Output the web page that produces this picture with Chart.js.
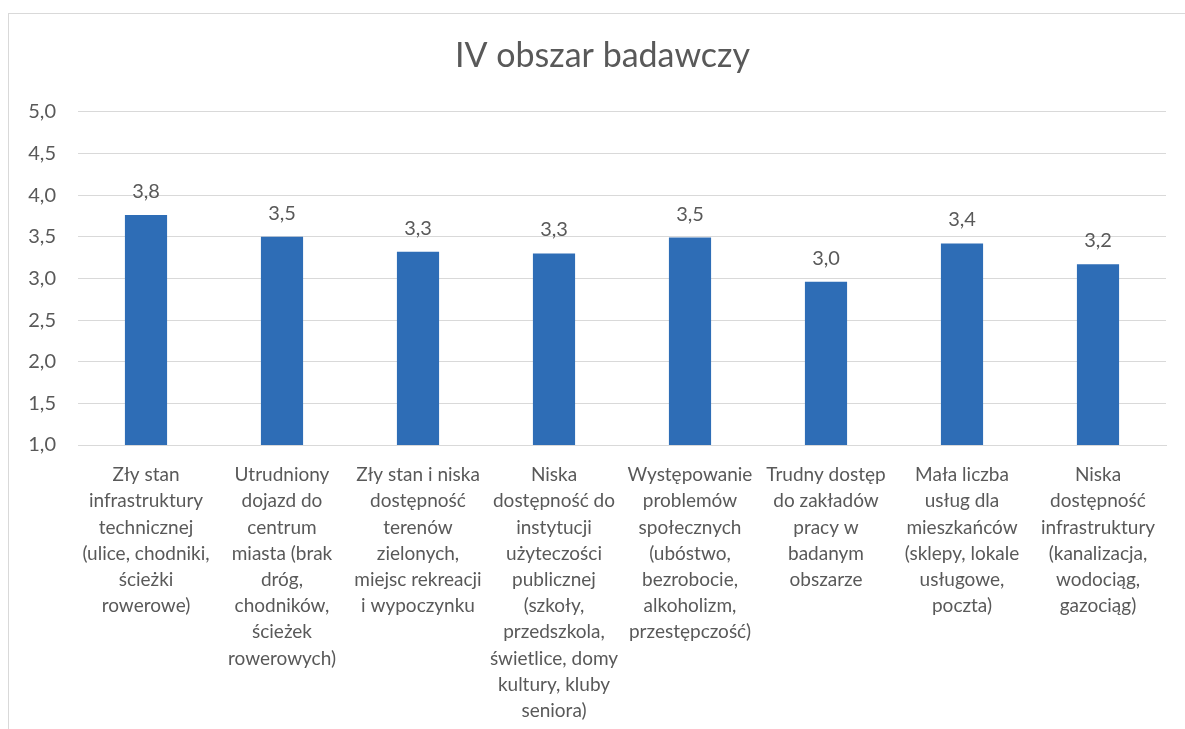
<!DOCTYPE html>
<html lang="pl">
<head>
<meta charset="utf-8">
<title>IV obszar badawczy</title>
<script src="https://cdn.jsdelivr.net/npm/chart.js@4"></script>
<style>
    body { margin: 0; background: #fff; overflow: hidden; }
    #ramka {
        position: absolute; left: 8px; top: 13px;
        width: 1300px; height: 900px;
        border: 1px solid #d9d9d9;
    }
    #wrap { position: absolute; left: 0; top: 0; width: 1185px; height: 729px; }
</style>
</head>
<body>
<div id="ramka"></div>
<div id="wrap"><canvas id="myChart" width="1185" height="729"></canvas></div>
<script>
const kategorie = [
    ['Zły stan', 'infrastruktury', 'technicznej', '(ulice, chodniki,', 'ścieżki', 'rowerowe)'],
    ['Utrudniony', 'dojazd do', 'centrum', 'miasta (brak', 'dróg,', 'chodników,', 'ścieżek', 'rowerowych)'],
    ['Zły stan i niska', 'dostępność', 'terenów', 'zielonych,', 'miejsc rekreacji', 'i wypoczynku'],
    ['Niska', 'dostępność do', 'instytucji', 'użyteczości', 'publicznej', '(szkoły,', 'przedszkola,', 'świetlice, domy', 'kultury, kluby', 'seniora)'],
    ['Występowanie', 'problemów', 'społecznych', '(ubóstwo,', 'bezrobocie,', 'alkoholizm,', 'przestępczość)'],
    ['Trudny dostęp', 'do zakładów', 'pracy w', 'badanym', 'obszarze'],
    ['Mała liczba', 'usług dla', 'mieszkańców', '(sklepy, lokale', 'usługowe,', 'poczta)'],
    ['Niska', 'dostępność', 'infrastruktury', '(kanalizacja,', 'wodociąg,', 'gazociąg)']
];

const wartosci = [3.76, 3.50, 3.32, 3.30, 3.49, 2.96, 3.42, 3.17];

const osY = { min: 1, max: 5, krok: 0.5 };

const szary = '#595959';
const siatka = '#d9d9d9';
const font = 'Lato, "Open Sans", sans-serif';

const fmt = (v) => v.toFixed(1).replace('.', ',');

// etykiety z wartościami nad słupkami
const etykietyPlugin = {
    id: 'etykiety',
    afterDatasetsDraw(chart) {
        const ctx = chart.ctx;
        const meta = chart.getDatasetMeta(0);
        ctx.save();
        ctx.font = '20px ' + font;
        ctx.fillStyle = szary;
        ctx.textAlign = 'center';
        ctx.textBaseline = 'alphabetic';
        meta.data.forEach((bar, i) => {
            ctx.fillText(fmt(wartosci[i]), bar.x, bar.y - 17);
        });
        ctx.restore();
    }
};

const config = {
    type: 'bar',
    data: {
        labels: kategorie,
        datasets: [{
            data: wartosci,
            backgroundColor: '#2e6db6',
            categoryPercentage: 1,
            barPercentage: 0.31
        }]
    },
    options: {
        responsive: false,
        animation: false,
        layout: { padding: { left: 20, right: 0, top: 0, bottom: 0 } },
        plugins: {
            legend: { display: false },
            tooltip: { enabled: false },
            title: {
                display: true,
                text: 'IV obszar badawczy',
                color: szary,
                font: { family: font, size: 34, weight: 'normal', lineHeight: 1.2 },
                padding: { top: 36, bottom: 35 }
            }
        },
        scales: {
            x: {
                grid: { display: false },
                border: { color: siatka },
                ticks: {
                    color: szary,
                    maxRotation: 0,
                    autoSkip: false,
                    padding: 9,
                    font: { family: font, size: 19, lineHeight: '26.2px' }
                },
                afterFit: (scale) => { scale.height = 284; }
            },
            y: {
                min: osY.min,
                max: osY.max,
                border: { display: false },
                grid: { color: siatka, lineWidth: 1, drawTicks: false },
                ticks: {
                    stepSize: osY.krok,
                    color: szary,
                    padding: 22,
                    font: { family: font, size: 20 },
                    callback: (v) => fmt(v)
                },
                afterFit: (scale) => { scale.width = 58; }
            },
            // pusta oś po prawej, tylko jako margines (tytuł zostaje na całej szerokości)
            y2: {
                type: 'linear',
                position: 'right',
                min: osY.min,
                max: osY.max,
                border: { display: false },
                grid: { display: false },
                ticks: { display: false },
                afterFit: (scale) => { scale.width = 19; }
            }
        }
    },
    plugins: [etykietyPlugin]
};

const myChart = document.getElementById('myChart').getContext('2d');
new Chart(myChart, config);
</script>
</body>
</html>
